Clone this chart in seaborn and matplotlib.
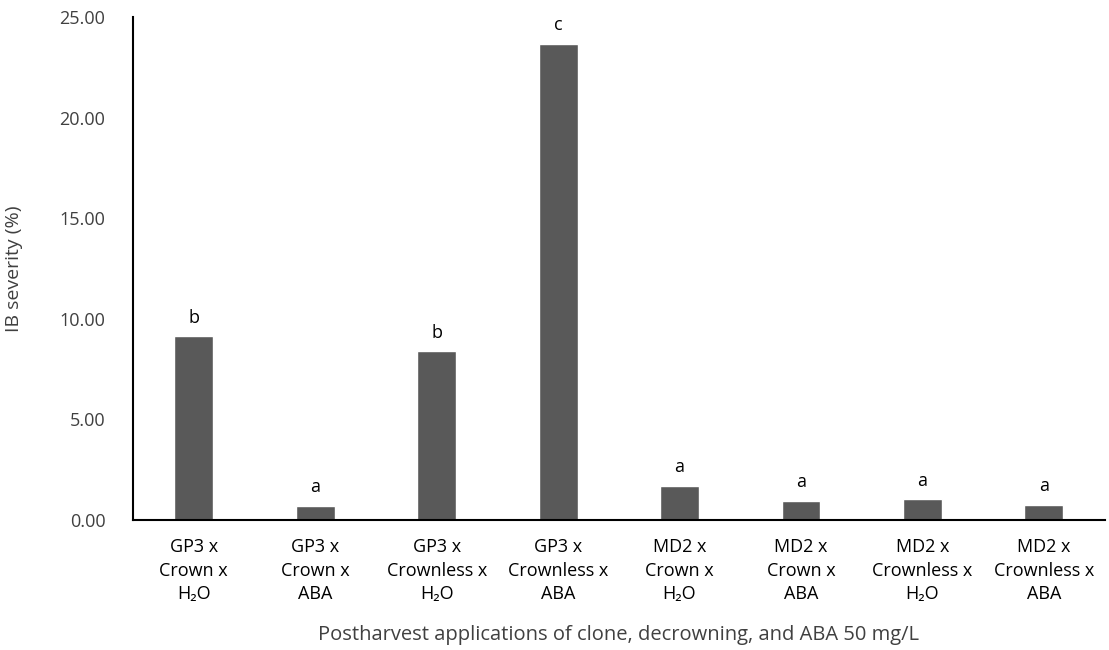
import seaborn as sns
import matplotlib.pyplot as plt
import pandas as pd

# data
treatments = ['GP3 x\nCrown x\nH\u2082O', 'GP3 x\nCrown x\nABA',
              'GP3 x\nCrownless x\nH\u2082O', 'GP3 x\nCrownless x\nABA',
              'MD2 x\nCrown x\nH\u2082O', 'MD2 x\nCrown x\nABA',
              'MD2 x\nCrownless x\nH\u2082O', 'MD2 x\nCrownless x\nABA']
severity = [9.12, 0.70, 8.38, 23.65, 1.71, 0.96, 1.03, 0.75]
letters = ['b', 'a', 'b', 'c', 'a', 'a', 'a', 'a']
yticks = [0, 5, 10, 15, 20, 25]

df = pd.DataFrame({'Treatment': treatments, 'Severity': severity})

sns.set_theme(style='white')
plt.rcParams['font.family'] = ['Open Sans', 'DejaVu Sans']

fig = plt.figure(figsize=(11.09, 6.5), dpi=100)
ax = fig.add_axes([0.12, 0.2, 0.876, 0.774])

sns.barplot(data=df, x='Treatment', y='Severity', color='#595959',
            width=0.32, saturation=1, ax=ax)

# significance letters
for i, (v, l) in enumerate(zip(severity, letters)):
    ax.annotate(l, (i, v), xytext=(0, 7), textcoords='offset points',
                ha='center', va='bottom', fontsize=13, color='#000000')

ax.set_ylim(0, 25)
ax.set_xlim(-0.5, 7.5)
ax.set_yticks(yticks)
ax.set_yticklabels([f'{t:.2f}' for t in yticks], fontsize=13, color='#404040')
ax.set_xticks(range(len(treatments)))
ax.set_xticklabels(treatments, fontsize=13, color='#000000', linespacing=1.4)
ax.tick_params(axis='x', pad=13)
ax.tick_params(axis='y', pad=20)
ax.tick_params(length=0)

for s in ['top', 'right']:
    ax.spines[s].set_visible(False)
for s in ['left', 'bottom']:
    ax.spines[s].set_color('#000000')
    ax.spines[s].set_linewidth(1.5)

ax.set_xlabel('Postharvest applications of clone, decrowning, and ABA 50 mg/L',
              fontsize=14.5, color='#404040', labelpad=16)
ax.set_ylabel('IB severity (%)', fontsize=14, color='#404040', labelpad=26)

fig.savefig('out.png', dpi=100)
plt.close(fig)
